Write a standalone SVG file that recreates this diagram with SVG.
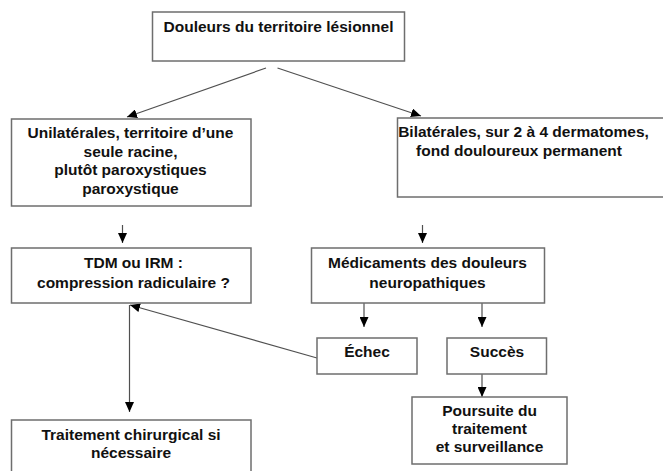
<svg xmlns="http://www.w3.org/2000/svg" width="663" height="471" viewBox="0 0 663 471">
<style>
.box{fill:#fff;stroke:#6e6e6e;stroke-width:1.5}
.sh{fill:#d8d8d8}
text{font-family:"Liberation Sans",Arial,sans-serif;font-weight:bold;font-size:15.5px;fill:#111;text-anchor:middle}
.c{stroke:#505050;stroke-width:1.2;fill:none;marker-end:url(#ah)}
</style>
<defs>
<marker id="ah" markerUnits="userSpaceOnUse" markerWidth="10" markerHeight="9" refX="10" refY="4.5" orient="auto">
<path d="M0,0 L10,4.5 L0,9 z" fill="#000"/>
</marker>
</defs>
<rect width="663" height="471" fill="#fff"/>
<g id="connectors">
<line class="c" x1="266" y1="68" x2="127" y2="117"/>
<line class="c" x1="277.5" y1="68" x2="421" y2="116"/>
<line class="c" x1="122.5" y1="225" x2="122.5" y2="243"/>
<line class="c" x1="422.5" y1="225" x2="422.5" y2="243"/>
<line class="c" x1="364" y1="303" x2="364" y2="327"/>
<line class="c" x1="482" y1="303" x2="482" y2="327"/>
<line class="c" x1="317" y1="358" x2="130" y2="305"/>
<line class="c" x1="129.5" y1="305" x2="129.5" y2="412"/>
<line class="c" x1="482" y1="374" x2="482" y2="397"/>
</g>
<g id="n-douleurs">
<rect class="box" x="152.5" y="12" width="252" height="49"/>
<text x="278.5" y="32">Douleurs du territoire lésionnel</text>
</g>
<g id="n-unilaterales">
<rect class="box" x="11.5" y="119" width="239.5" height="87"/>
<text x="130.5" y="138">Unilatérales, territoire d’une</text>
<text x="130.5" y="156.5">seule racine,</text>
<text x="130.5" y="175">plutôt paroxystiques</text>
<text x="130.5" y="193.5">paroxystique</text>
</g>
<g id="n-bilaterales">
<rect class="box" x="397.5" y="118" width="290" height="79"/>
<text x="523.5" y="137">Bilatérales, sur 2 à 4 dermatomes,</text>
<text x="519" y="156">fond douloureux permanent</text>
</g>
<g id="n-tdm">
<rect class="box" x="11.5" y="248" width="239.5" height="55"/>
<text x="133.5" y="268">TDM ou IRM :</text>
<text x="133.5" y="287.5">compression radiculaire ?</text>
</g>
<g id="n-medicaments">
<rect class="box" x="311.5" y="248" width="233" height="55"/>
<text x="427.5" y="268">Médicaments des douleurs</text>
<text x="427.5" y="287.5">neuropathiques</text>
</g>
<g id="n-echec">
<rect class="box" x="317" y="338" width="100" height="36"/>
<text x="367" y="357">Échec</text>
</g>
<g id="n-succes">
<rect class="box" x="447" y="338" width="99.5" height="36"/>
<text x="497" y="357">Succès</text>
</g>
<g id="n-traitement">
<rect class="box" x="11.5" y="420" width="239.5" height="70"/>
<text x="131" y="440">Traitement chirurgical si</text>
<text x="131" y="457.5">nécessaire</text>
</g>
<g id="n-poursuite">
<rect class="box" x="412" y="397" width="155" height="67"/>
<text x="489.5" y="416">Poursuite du</text>
<text x="489.5" y="434">traitement</text>
<text x="489.5" y="452">et surveillance</text>
</g>
</svg>
